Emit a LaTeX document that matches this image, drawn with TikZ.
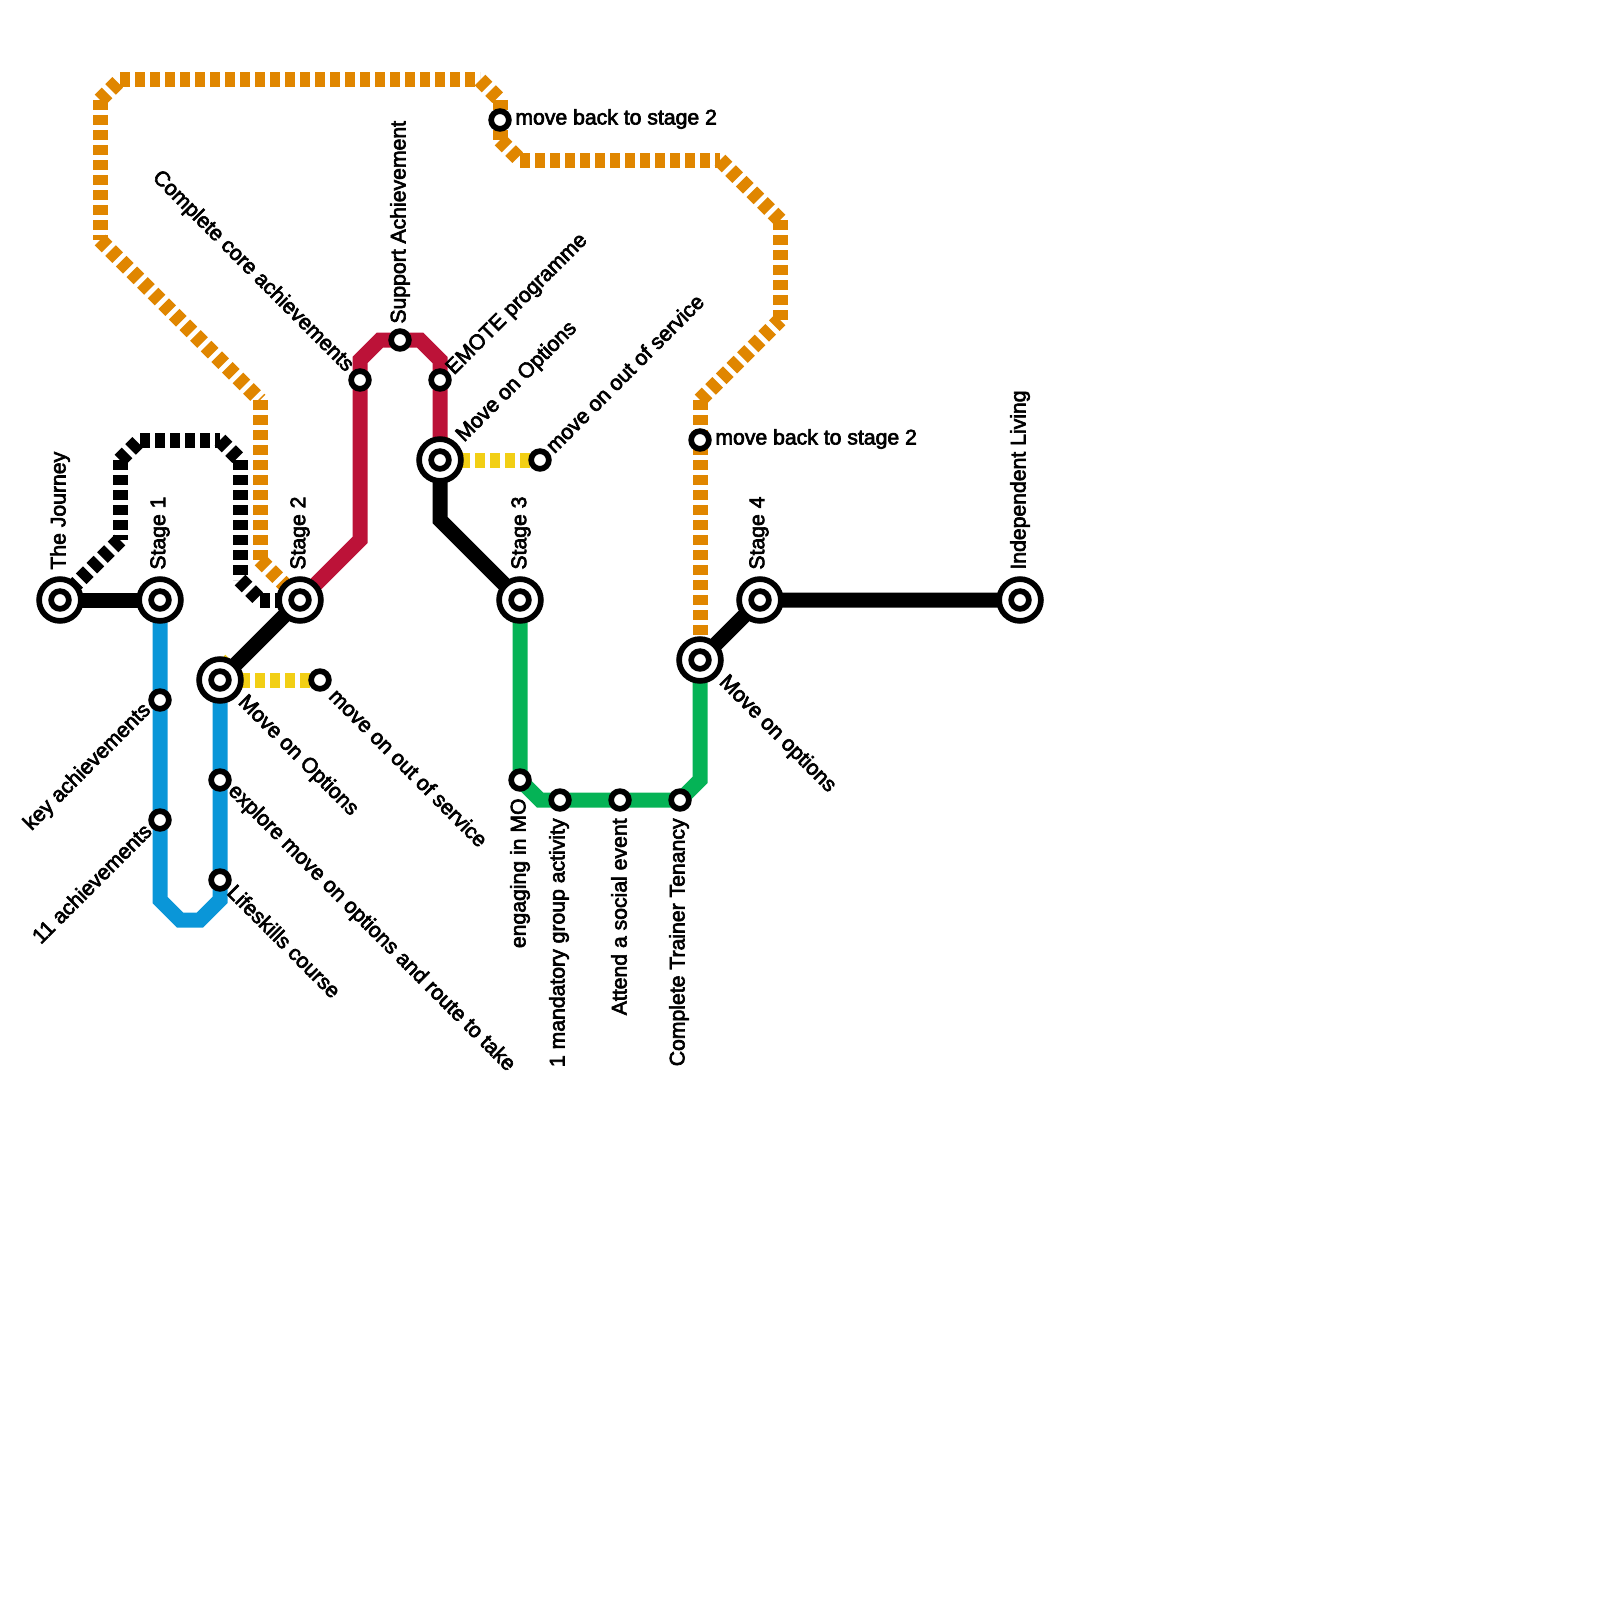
\documentclass[tikz,border=0pt]{standalone}
\usepackage{fontspec}
\newfontfamily\lbfont{Liberation Sans}[FakeBold=3]
\usetikzlibrary{backgrounds}
\definecolor{lorange}{HTML}{E08600}
\definecolor{lblue}{HTML}{0A96D8}
\definecolor{lred}{HTML}{BC1238}
\definecolor{lgreen}{HTML}{05B356}
\definecolor{lyellow}{HTML}{F2CF15}
\tikzset{
  x=0.5pt,y=-0.5pt,
  ln/.style={line width=7.5pt,line join=miter},
  dsh/.style={ln,dash pattern=on 5pt off 2.5pt},
  ic/.style={circle,draw=black,fill=white,line width=2.85pt,minimum size=20.9pt,inner sep=0pt},
  st/.style={circle,draw=black,fill=white,line width=2.85pt,minimum size=8.85pt,inner sep=0pt},
  lb/.style={font=\lbfont\fontsize{10.6}{12}\selectfont,inner sep=0pt,text=black},
  up/.style={lb,rotate=90,anchor=west},
  dn/.style={lb,rotate=90,anchor=east},
  ne/.style={lb,rotate=45,anchor=west},
  se/.style={lb,rotate=-45,anchor=west},
  nw/.style={lb,rotate=-45,anchor=east},
  sw/.style={lb,rotate=45,anchor=east},
  rt/.style={lb,anchor=west},
}
\begin{document}
\begin{tikzpicture}
\useasboundingbox (0,0) rectangle (1600,1600);
% interchanges
\foreach \n/\x/\y in {j/60/600,a/160/600,b/300/600,m/220/680,n/440/460,c/520/600,o/700/660,d/760/600,e/1020/600}{
  \node[ic] (\n) at (\x,\y) {};
  \node[st] (\n i) at (\x,\y) {};
}
% stations
\foreach \n/\x/\y in {key/160/700,ele/160/820,exp/220/780,lif/220/880,yb/320/680,core/360/380,sup/400/340,emo/440/380,yt/540/460,eng/520/780,man/560/800,att/620/800,tra/680/800,bk/500/120,bl/700/440}{
  \node[st] (\n) at (\x,\y) {};
}
% way points
\foreach \n/\x/\y in {k1/120/540,k2/120/460,k3/140/440,k4/220/440,k5/240/460,k6/240/580,k7/260/600,
 p1/260/560,p2/260/400,p3/100/240,p4/100/100,p5/120/80,p6/480/80,p7/500/100,p8/500/140,p9/520/160,p10/720/160,p11/780/220,p12/780/320,p13/700/400,
 u1/160/900,u2/180/920,u3/200/920,u4/220/900,
 r1/360/540,r2/360/360,r3/380/340,r4/420/340,r5/440/360,
 g1/540/800,g2/700/780,t1/440/520,
 y1/220/660,y2/240/680,y3/440/440,y4/460/460}{
  \coordinate (\n) at (\x,\y);
}
\begin{pgfonlayer}{background}
% dashed black
\foreach \s/\t in {j/k1,k2/k1,k2/k3,k3/k4,k4/k5,k5/k6,k6/k7,k7/b}{
  \draw[dsh,black] (\s.center) -- (\t.center);
}
% dashed orange
\foreach \s/\t in {p1/b,p2/p1,p3/p2,p4/p3,p4/p5,p5/p6,p6/p7,p7/p8,p8/p9,p9/p10,p10/p11,p11/p12,p13/p12,p13/o}{
  \draw[dsh,lorange] (\s.center) -- (\t.center);
}
% yellow
\foreach \s/\t in {y1/y2,y2/yb,y3/y4,y4/yt}{
  \draw[dsh,lyellow] (\s.center) -- (\t.center);
}
% blue
\draw[ln,lblue] (a.center) -- (u1) -- (u2) -- (u3) -- (u4) -- (m.center);
% red
\draw[ln,lred] (b.center) -- (r1) -- (r2) -- (r3) -- (r4) -- (r5) -- (n.center);
% green
\draw[ln,lgreen] (c.center) -- (eng.center) -- (g1) -- (tra.center) -- (g2) -- (o.center);
% black
\draw[ln,black] (j.center) -- (a.center);
\draw[ln,black] (b.center) -- (m.center);
\draw[ln,black] (n.center) -- (t1) -- (c.center);
\draw[ln,black] (o.center) -- (d.center) -- (e.center);
\end{pgfonlayer}
% labels
\node[up] (l1) at (60,570) {The Journey};
\node[up] (l2) at (160,570) {Stage 1};
\node[up] (l3) at (300,570) {Stage 2};
\node[up] (l4) at (521,570) {Stage 3};
\node[up] (l5) at (759,570) {Stage 4};
\node[up] (l6) at (1020,570) {Independent Living};
\node[up] (l7) at (400,324) {Support Achievement};
\node[ne] (l8) at (450,372) {EMOTE programme};
\node[ne] (l9) at (460,439) {Move on Options};
\node[ne] (l10) at (549,449) {move on out of service};
\node[se] (l11) at (241,699) {Move on Options};
\node[se] (l12) at (333,692) {move on out of service};
\node[se] (l13) at (231,788) {explore move on options and route to take};
\node[se] (l14) at (231,888) {Lifeskills course};
\node[se] (l15) at (722,679) {Move on options};
\node[rt] (l16) at (515,119) {move back to stage 2};
\node[rt] (l17) at (715,439) {move back to stage 2};
\node[nw] (l18) at (350,369) {Complete core achievements};
\node[sw] (l19) at (148,707) {key achievements};
\node[sw] (l20) at (148,827) {11 achievements};
\node[dn] (l21) at (520,798) {engaging in MO};
\node[dn] (l22) at (559,818) {1 mandatory group activity};
\node[dn] (l23) at (619,818) {Attend a social event};
\node[dn] (l24) at (679,818) {Complete Trainer Tenancy};
\end{tikzpicture}
\end{document}
